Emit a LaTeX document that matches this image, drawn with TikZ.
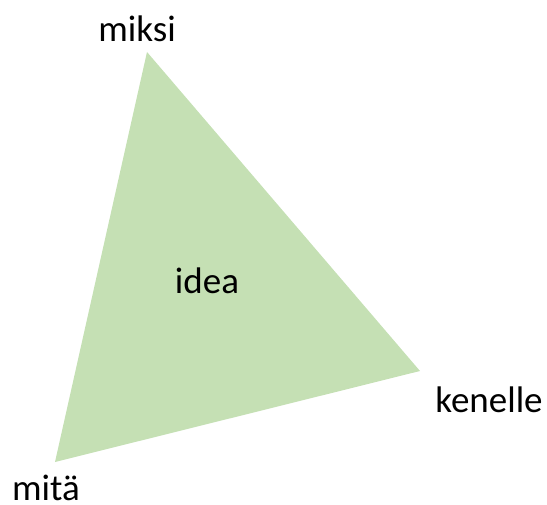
\documentclass[tikz,border=0pt]{standalone}
\usepackage{fontspec}
\setmainfont{Carlito}
\definecolor{trifill}{HTML}{C5E0B4}
\begin{document}
\begin{tikzpicture}[x=1bp,y=-1bp,
  lbl/.style={anchor=base,inner sep=0pt,font=\fontsize{37bp}{44bp}\selectfont}]
\useasboundingbox (0,0) rectangle (547,505);
\coordinate (top) at (147,52);
\coordinate (right) at (420,371);
\coordinate (left) at (55,462);
\fill[trifill] (top) -- (right) -- (left) -- cycle;
\node[lbl] (miksi) at (137,42) {miksi};
\node[lbl] (kenelle) at (489,412) {kenelle};
\node[lbl] (mita) at (46,500) {mitä};
\node[lbl] (idea) at (207,293) {idea};
\end{tikzpicture}
\end{document}
